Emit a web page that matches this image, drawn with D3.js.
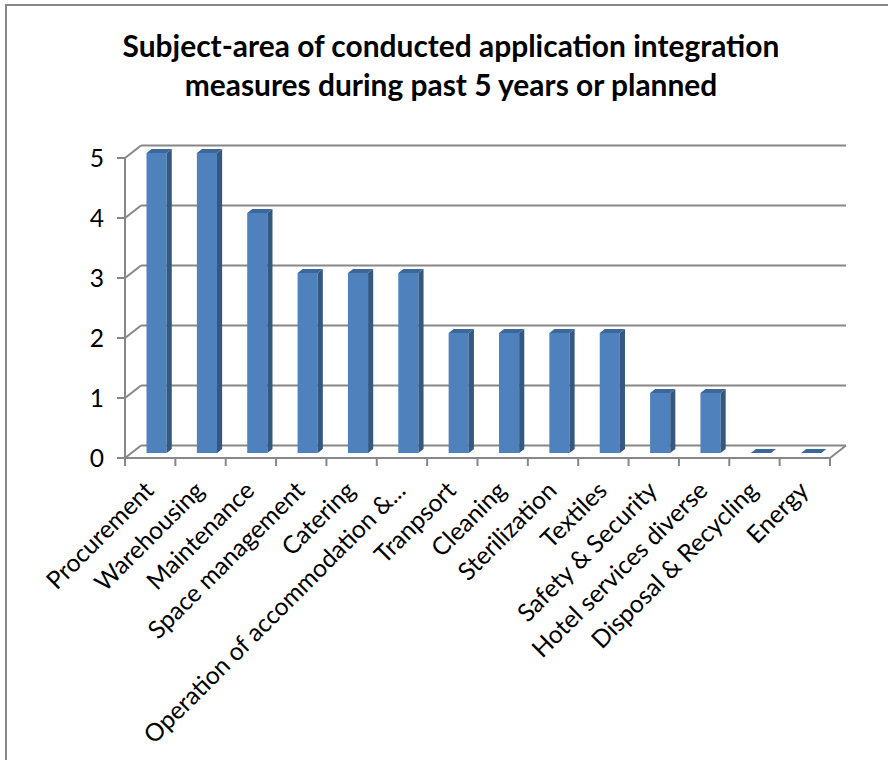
<!DOCTYPE html>
<html lang="en">
<head>
    <meta charset="UTF-8">
    <script src="https://d3js.org/d3.v7.min.js"></script>
    <style>
        body { margin: 0; background: #fff; }
        text { font-family: Lato, "Open Sans", sans-serif; fill: #000; }
    </style>
    <title>Subject-area of conducted application integration measures</title>
</head>
<body>

<div id="chart"></div>

<script>
    const width = 888;
    const height = 760;

    // chart data
    const categories = ["Procurement", "Warehousing", "Maintenance", "Space management", "Catering",
        "Operation of accommodation &...", "Tranpsort", "Cleaning", "Sterilization", "Textiles",
        "Safety & Security", "Hotel services diverse", "Disposal & Recycling", "Energy"];
    const counts = [5, 5, 4, 3, 3, 3, 2, 2, 2, 2, 1, 1, 0, 0];
    const yTicks = [0, 1, 2, 3, 4, 5];
    const titleLines = ["Subject-area of conducted application integration",
        "measures during past 5 years or planned"];

    // 3d depth offset of the back wall
    const DX = 16, DY = -12.5;
    const barFront = 0.4, barBack = 0.72;

    const svg = d3.select("#chart")
        .append("svg")
        .attr("width", width)
        .attr("height", height);

    // chart border (only left/top visible in crop)
    svg.append("rect")
        .attr("x", 6).attr("y", 5)
        .attr("width", width + 20).attr("height", height + 20)
        .attr("fill", "#fff")
        .attr("stroke", "#888")
        .attr("stroke-width", 2);

    const x = d3.scaleBand()
        .domain(categories)
        .range([125, 830])
        .paddingInner(0.6)
        .paddingOuter(0.3);

    const y = d3.scaleLinear()
        .domain([0, 5])
        .range([458, 158]);

    // font size for axis labels, fitted so the longest label matches the reference
    const probe = svg.append("text").style("font-size", "100px").text(categories[5]);
    const labelSize = 100 * 358 / probe.node().getComputedTextLength();
    probe.remove();

    const gridColor = "#878787";
    const grid = svg.append("g");

    // back wall gridlines + left wall diagonals
    yTicks.forEach(v => {
        grid.append("line")
            .attr("x1", 125 + DX).attr("x2", 830 + DX)
            .attr("y1", y(v) + DY).attr("y2", y(v) + DY)
            .attr("stroke", gridColor).attr("stroke-width", 2);
        grid.append("line")
            .attr("x1", 125).attr("x2", 125 + DX)
            .attr("y1", y(v)).attr("y2", y(v) + DY)
            .attr("stroke", gridColor).attr("stroke-width", 2);
    });
    // floor right edge
    grid.append("line")
        .attr("x1", 830).attr("x2", 830 + DX)
        .attr("y1", y(0)).attr("y2", y(0) + DY)
        .attr("stroke", gridColor).attr("stroke-width", 2);
    // front axes
    grid.append("line")
        .attr("x1", 125).attr("x2", 125)
        .attr("y1", y(5)).attr("y2", y(0))
        .attr("stroke", gridColor).attr("stroke-width", 2);
    grid.append("line")
        .attr("x1", 125).attr("x2", 830)
        .attr("y1", y(0)).attr("y2", y(0))
        .attr("stroke", gridColor).attr("stroke-width", 2);

    // y ticks + labels
    yTicks.forEach(v => {
        grid.append("line")
            .attr("x1", 117).attr("x2", 125)
            .attr("y1", y(v)).attr("y2", y(v))
            .attr("stroke", gridColor).attr("stroke-width", 2);
        svg.append("text")
            .attr("x", 104)
            .attr("y", y(v))
            .attr("dy", "0.35em")
            .attr("text-anchor", "end")
            .style("font-size", labelSize + "px")
            .text(v);
    });

    // x ticks at band boundaries
    d3.range(categories.length + 1).forEach(i => {
        const xt = 125 + i * x.step();
        grid.append("line")
            .attr("x1", xt).attr("x2", xt)
            .attr("y1", y(0)).attr("y2", y(0) + 8)
            .attr("stroke", gridColor).attr("stroke-width", 2);
    });

    // bars
    const bars = svg.append("g");
    categories.forEach((c, i) => {
        const v = counts[i];
        const x0 = x(c) + barFront * DX;
        const x1 = x0 + x.bandwidth();
        const yb = y(0) + barFront * DY;
        const yt = y(v) + barFront * DY;
        const ox = (barBack - barFront) * DX;
        const oy = (barBack - barFront) * DY;
        if (v > 0) {
            bars.append("rect")
                .attr("x", x0).attr("y", yt)
                .attr("width", x1 - x0).attr("height", yb - yt)
                .attr("fill", "#4F81BD");
            bars.append("path")
                .attr("d", `M${x1},${yt}L${x1 + ox},${yt + oy}L${x1 + ox},${yb + oy}L${x1},${yb}Z`)
                .attr("fill", "#34587F");
        }
        bars.append("path")
            .attr("d", `M${x0},${yt}L${x0 + ox},${yt + oy}L${x1 + ox},${yt + oy}L${x1},${yt}Z`)
            .attr("fill", "#3C679B");
    });

    // category labels
    categories.forEach(c => {
        const cx = x(c) + x.bandwidth() / 2;
        svg.append("text")
            .attr("transform", `translate(${cx - 1},486) rotate(-45)`)
            .attr("text-anchor", "end")
            .attr("dy", "0.35em")
            .style("font-size", labelSize + "px")
            .text(c);
    });

    // title, fitted to width of first line
    const t1 = svg.append("text")
        .attr("x", 451).attr("y", 57)
        .attr("text-anchor", "middle")
        .style("font-weight", "bold")
        .style("font-size", "100px")
        .text(titleLines[0]);
    const titleSize = 100 * 657 / t1.node().getComputedTextLength();
    t1.style("font-size", titleSize + "px");
    svg.append("text")
        .attr("x", 451).attr("y", 96)
        .attr("text-anchor", "middle")
        .style("font-weight", "bold")
        .style("font-size", titleSize + "px")
        .text(titleLines[1]);
</script>

</body>
</html>
